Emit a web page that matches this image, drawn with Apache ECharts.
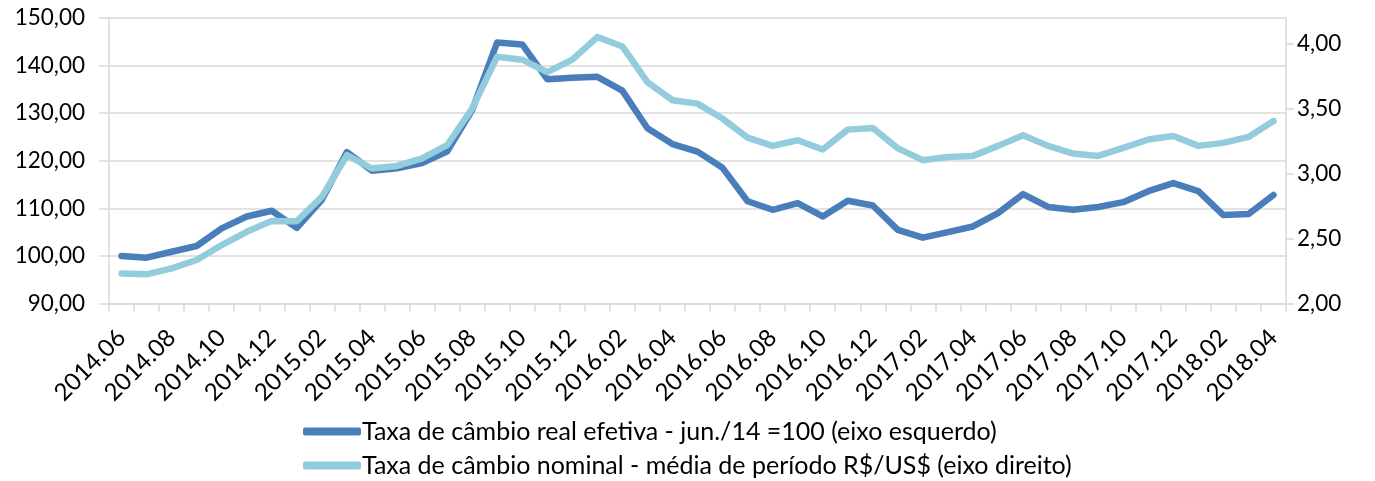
<!DOCTYPE html>
<html><head><meta charset="utf-8">
<script src="https://cdn.jsdelivr.net/npm/echarts@6/dist/echarts.min.js"></script>
<style>html,body{margin:0;padding:0;background:#fff}#c{width:1375px;height:481px}</style>
</head><body><div id="c"></div>
<script>
const months = ['2014.06','2014.07','2014.08','2014.09','2014.10','2014.11','2014.12','2015.01','2015.02','2015.03','2015.04','2015.05','2015.06','2015.07','2015.08','2015.09','2015.10','2015.11','2015.12','2016.01','2016.02','2016.03','2016.04','2016.05','2016.06','2016.07','2016.08','2016.09','2016.10','2016.11','2016.12','2017.01','2017.02','2017.03','2017.04','2017.05','2017.06','2017.07','2017.08','2017.09','2017.10','2017.11','2017.12','2018.01','2018.02','2018.03','2018.04'];
const realEffective = [100.0,99.65,100.9,102.1,105.8,108.3,109.5,105.9,111.8,121.8,117.9,118.4,119.5,121.9,130.6,144.8,144.4,137.1,137.4,137.6,134.7,126.8,123.5,121.9,118.5,111.5,109.7,111.1,108.3,111.6,110.6,105.5,103.85,105.0,106.2,109.0,113.0,110.3,109.7,110.3,111.3,113.6,115.3,113.6,108.6,108.8,112.8];
const nominal = [2.233,2.226,2.272,2.336,2.451,2.553,2.637,2.635,2.822,3.142,3.040,3.060,3.117,3.219,3.500,3.900,3.877,3.782,3.877,4.051,3.979,3.705,3.565,3.539,3.424,3.278,3.214,3.257,3.186,3.339,3.352,3.195,3.104,3.129,3.137,3.214,3.296,3.214,3.155,3.137,3.198,3.263,3.290,3.214,3.237,3.283,3.406];
const leftTicks = [90,100,110,120,130,140,150];
const rightTicks = [2,2.5,3,3.5,4];
const seriesNames = ['Taxa de câmbio real efetiva - jun./14 =100 (eixo esquerdo)','Taxa de câmbio nominal - média de período R$/US$ (eixo direito)'];

const fmt = v => v.toFixed(2).replace('.', ',');
const font = 'Lato';
const gridColor = '#d9d9d9';
const legendBase = {
  orient:'horizontal', left:303, itemWidth:58, itemHeight:8, icon:'roundRect', padding:0,
  textStyle:{fontFamily:font,fontSize:25,color:'#000',padding:[0,0,0,-4]}
};
const chart = echarts.init(document.getElementById('c'), null, {renderer:'canvas'});
chart.setOption({
  animation:false,
  textStyle:{fontFamily:font},
  grid:{left:109,right:89,top:17.7,bottom:177.3,containLabel:false},
  legend:[
    Object.assign({}, legendBase, {top:419, data:[seriesNames[0]]}),
    Object.assign({}, legendBase, {top:453, data:[seriesNames[1]]})
  ],
  xAxis:{
    type:'category', data:months, boundaryGap:true,
    axisLine:{show:true,lineStyle:{color:gridColor,width:1.5}},
    axisTick:{show:true,interval:0,length:8,lineStyle:{color:gridColor,width:1.5}},
    axisLabel:{interval:1,rotate:45,fontSize:24,color:'#000',fontFamily:font,margin:30}
  },
  yAxis:[{
    type:'value', min:90, max:150, interval:10, position:'left',
    axisLine:{show:true,lineStyle:{color:gridColor,width:1.5}},
    axisTick:{show:true,length:10,lineStyle:{color:gridColor,width:1.5}},
    splitLine:{show:true,lineStyle:{color:gridColor,width:1.5}},
    axisLabel:{fontSize:22.5,color:'#000',fontFamily:font,margin:24,formatter:v=>fmt(v),customValues:leftTicks}
  },{
    type:'value', min:2, max:4.2, interval:0.5, position:'right',
    axisLine:{show:true,lineStyle:{color:gridColor,width:1.5}},
    axisTick:{show:true,length:8,lineStyle:{color:gridColor,width:1.5},customValues:rightTicks},
    splitLine:{show:false},
    axisLabel:{fontSize:22.5,color:'#000',fontFamily:font,margin:11,formatter:v=>fmt(v),customValues:rightTicks}
  }],
  series:[{
    name:seriesNames[0], type:'line', yAxisIndex:0, data:realEffective,
    symbol:'none', smooth:false, z:2,
    itemStyle:{color:'#4a7ebb'},
    lineStyle:{color:'#4a7ebb',width:6.5,cap:'round',join:'round'}
  },{
    name:seriesNames[1], type:'line', yAxisIndex:1, data:nominal,
    symbol:'none', smooth:false, z:3,
    itemStyle:{color:'#93cddd'},
    lineStyle:{color:'#93cddd',width:6.5,cap:'round',join:'round'}
  }]
});
</script></body></html>
